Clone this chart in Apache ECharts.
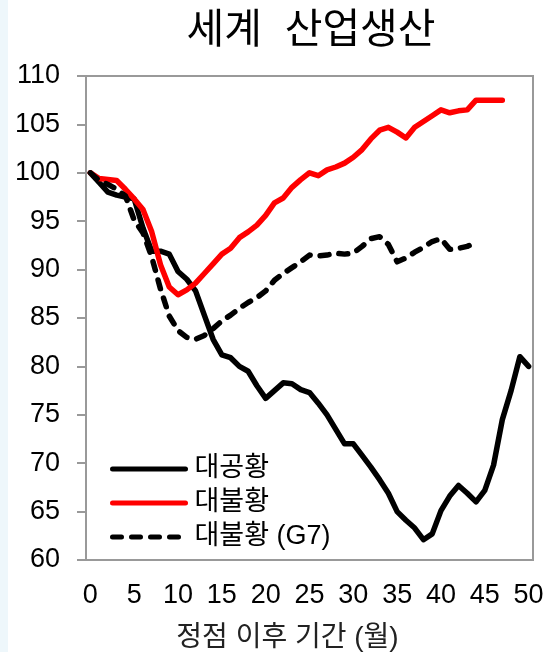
<!DOCTYPE html>
<html>
<head>
<meta charset="utf-8">
<script src="https://cdn.jsdelivr.net/npm/echarts@6/dist/echarts.min.js"></script>
<style>
  html, body { margin: 0; padding: 0; }
  #chart {
    width: 546px;
    height: 652px;
    background: linear-gradient(to right, #eef7fb 0, #eef7fb 8px, #ffffff 8px);
  }
</style>
</head>
<body>
<div id="chart"></div>
<script>
// 정점 이후 개월 수
const months = []
for (let m = 0; m <= 50; m++) months.push(String(m))

// 대공황
const greatDepression = [
  100, 99.0, 98.0, 97.7, 97.5, 97.3, 94.3, 91.9, 91.9, 91.6,
  89.8, 89.0, 87.8, 85.3, 82.8, 81.2, 80.9, 80.0, 79.5, 78.0,
  76.7, 77.5, 78.3, 78.2, 77.6, 77.3, 76.2, 75.0, 73.5, 72.0,
  72.0, 70.8, 69.6, 68.3, 66.9, 65.0, 64.1, 63.3, 62.1, 62.7,
  65.1, 66.6, 67.7, 66.9, 66.0, 67.2, 69.8, 74.5, 77.5, 81.0,
  80.0
]

// 대불황
const greatRecession = [
  100, 99.4, 99.3, 99.2, 98.3, 97.3, 96.2, 93.9, 90.5, 88.2,
  87.4, 87.9, 88.6, 89.6, 90.6, 91.6, 92.2, 93.3, 93.9, 94.6,
  95.6, 96.9, 97.4, 98.5, 99.3, 100.0, 99.7, 100.3, 100.6, 101.0,
  101.6, 102.4, 103.5, 104.4, 104.7, 104.2, 103.6, 104.7, 105.3, 105.9,
  106.5, 106.2, 106.4, 106.5, 107.5, 107.5, 107.5, 107.5
]

// 대불황 (G7)
const greatRecessionG7 = [
  100, 99.2, 98.8, 98.3, 97.6, 95.1, 93.8, 91.3, 88.0, 85.2,
  83.7, 83.0, 82.8, 83.2, 83.9, 84.7, 85.3, 86.0, 86.6, 87.1,
  87.8, 88.9, 89.6, 90.2, 90.8, 91.5, 91.4, 91.5, 91.7, 91.6,
  91.7, 92.4, 93.2, 93.4, 92.6, 90.8, 91.2, 91.8, 92.3, 92.9,
  93.2, 92.1, 92.2, 92.4, 92.8
]

const fontStack = "'Liberation Sans', 'Noto Sans CJK KR', sans-serif"

let chart = echarts.init(document.getElementById('chart'))
chart.setOption({
  animation: false,
  title: {
    text: '세계  산업생산',
    left: 306,
    top: 6,
    textAlign: 'center',
    textStyle: {
      fontFamily: fontStack,
      fontSize: 41,
      fontWeight: 'normal',
      color: '#000'
    }
  },
  grid: {
    left: 86,
    right: 13,
    top: 76,
    bottom: 92,
    outerBoundsMode: 'none',
    containLabel: false,
    show: true,
    borderColor: '#999',
    borderWidth: 2
  },
  legend: {
    orient: 'vertical',
    left: 110,
    top: 455,
    padding: 0,
    itemWidth: 73,
    itemHeight: 14,
    itemGap: 6,
    itemStyle: { opacity: 0 },
    lineStyle: { width: 5 },
    textStyle: {
      fontFamily: fontStack,
      fontSize: 27,
      lineHeight: 28,
      color: '#000',
      padding: [0, 0, 0, 4]
    },
    data: ['대공황', '대불황', '대불황 (G7)']
  },
  xAxis: {
    type: 'category',
    data: months,
    boundaryGap: true,
    name: '정점 이후 기간 (월)',
    nameLocation: 'middle',
    nameGap: 64,
    nameTextStyle: {
      fontFamily: fontStack,
      fontSize: 28,
      color: '#222',
      padding: [0, 44, 0, 0]
    },
    axisLine: { lineStyle: { color: '#999', width: 2 } },
    axisTick: { interval: 4, length: 8, lineStyle: { color: '#999', width: 2 } },
    axisLabel: {
      interval: 4,
      margin: 22,
      fontFamily: fontStack,
      fontSize: 27,
      color: '#000'
    },
    splitLine: { show: false }
  },
  yAxis: {
    type: 'value',
    min: 60,
    max: 110,
    interval: 5,
    axisLine: { show: true, lineStyle: { color: '#999', width: 2 } },
    axisTick: { show: true, length: 9, lineStyle: { color: '#999', width: 2 } },
    axisLabel: {
      margin: 26,
      fontFamily: fontStack,
      fontSize: 27,
      color: '#000'
    },
    splitLine: { show: false }
  },
  series: [
    {
      name: '대공황',
      type: 'line',
      data: greatDepression,
      showSymbol: false,
      symbol: 'none',
      itemStyle: { color: '#000' },
      lineStyle: { color: '#000', width: 5.5, join: 'round', cap: 'round' },
      z: 2
    },
    {
      name: '대불황',
      type: 'line',
      data: greatRecession,
      showSymbol: false,
      symbol: 'none',
      itemStyle: { color: '#ff0000' },
      lineStyle: { color: '#ff0000', width: 5.5, join: 'round', cap: 'round' },
      z: 3
    },
    {
      name: '대불황 (G7)',
      type: 'line',
      data: greatRecessionG7,
      showSymbol: false,
      symbol: 'none',
      itemStyle: { color: '#000' },
      lineStyle: { color: '#000', width: 5.5, type: [9, 10], join: 'round', cap: 'round' },
      z: 4
    }
  ]
})
</script>
</body>
</html>
